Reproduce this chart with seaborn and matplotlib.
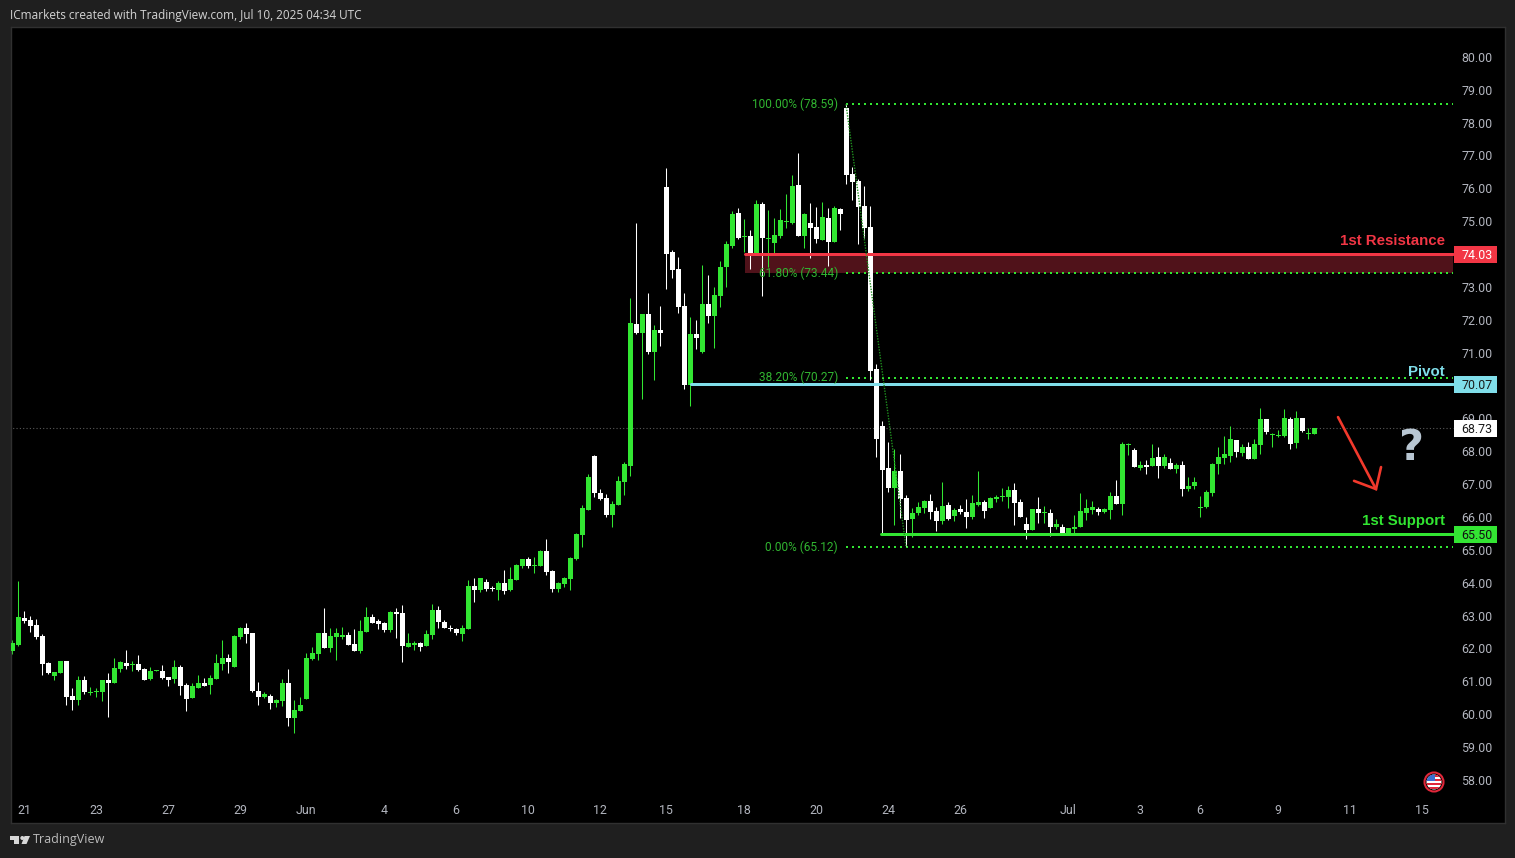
import matplotlib
matplotlib.use("Agg")
import matplotlib.pyplot as plt
from matplotlib.patches import Rectangle, Polygon, Ellipse
from matplotlib.transforms import ScaledTranslation
import seaborn as sns
import pandas as pd
import numpy as np

# ---------- data (price values) ----------
direction = list(
    "GGWWWWWGGWWGWGGGWGGWGWWGGWWGWWGGWGGGWGGW"
    "WWGWGGWGGGGGWGGGWWGGWWWGWWGGWGGWWWWGGW"
    "GWWGWGGGWGGWWGGGGGGWWWGGGG"
    "WGWGWWWWWGWGWGGGGWG"
    "WGWGGGGGWGWWGWGWWWWWW"
    "WWWGWWGGGWWGWGWWGGWGGGGWWWGWGWG"
    "WGGGGGWGGWGGWGWGWGWGWGGGGGGGGWGWGGWGGGWGWGG"
)
highs = [62.29,64.08,63.17,63.02,62.93,62.47,61.62,61.31,61.65,61.65,60.83,61.19,61.19,60.86,60.83,61.07,61.28,61.74,61.65,61.98,
 61.65,61.83,61.43,61.47,61.37,61.53,61.16,61.68,61.53,60.98,60.98,61.22,61.13,61.22,61.86,62.29,61.86,62.44,62.68,62.80,
 62.50,61.01,60.70,60.64,60.49,61.10,61.40,60.46,60.55,61.89,62.07,62.50,63.26,62.65,62.65,62.68,62.53,62.62,62.89,63.29,
 63.08,62.93,62.83,63.17,63.26,63.35,62.50,62.26,62.23,62.59,63.38,63.32,62.89,62.74,62.65,62.74,64.11,64.17,
 64.17,64.14,63.93,64.08,64.42,64.51,64.60,64.75,64.81,64.81,65.02,65.36,64.42,64.05,64.20,64.81,65.54,66.39,67.34,67.91,
 66.88,66.73,66.51,67.27,67.70,72.70,
 74.98,72.21,72.85,71.88,72.45,76.65,74.16,73.95,72.85,72.12,72.03,73.70,73.40,73.03,73.82,74.43,75.34,75.44,75.10,
 74.76,75.68,75.62,75.37,75.13,75.40,75.86,76.44,77.11,75.28,75.58,75.46,75.62,75.43,75.49,75.43,78.59,76.68,76.31,76.10,75.50,
 70.69,68.96,68.32,68.11,67.96,66.71,66.31,66.50,66.56,66.74,66.34,67.10,66.50,66.31,66.40,66.59,66.71,67.44,66.56,66.65,
 66.71,66.92,66.98,67.07,66.59,66.04,66.28,66.65,66.37,66.28,65.98,
 65.82,65.70,66.09,66.76,66.58,66.52,66.34,66.30,66.79,67.16,68.31,68.28,68.13,67.73,67.76,68.25,68.16,67.95,67.83,67.67,
 67.73,67.25,67.25,66.67,66.85,67.67,68.16,68.49,68.80,68.37,68.25,68.31,68.40,69.35,69.01,68.59,68.68,69.32,69.07,69.26,69.04,68.74,68.74]
body_tops = [62.20,62.99,62.96,62.89,62.74,62.41,61.59,61.31,61.65,61.65,60.58,61.07,61.07,60.70,60.73,61.07,61.07,61.43,61.62,61.59,
 61.56,61.56,61.40,61.34,61.37,61.34,61.16,61.47,61.47,60.92,60.89,60.98,60.98,61.13,61.59,61.74,61.74,62.41,62.65,62.65,
 62.50,60.73,60.64,60.58,60.46,60.98,60.98,60.16,60.31,61.74,61.89,62.50,62.50,62.41,62.50,62.44,62.44,62.16,62.56,62.99,
 62.99,62.86,62.80,63.14,63.14,63.11,62.20,62.20,62.20,62.47,63.20,63.20,62.83,62.65,62.62,62.65,63.93,63.93,
 64.17,64.05,63.87,64.02,64.02,64.14,64.57,64.75,64.75,64.57,64.99,64.99,64.38,64.02,64.17,64.78,65.51,66.30,67.25,67.88,
 66.76,66.61,66.42,67.12,67.64,71.94,
 71.91,72.21,72.21,71.72,71.72,76.07,74.10,73.58,72.45,71.60,71.60,72.52,72.52,72.79,73.64,74.34,75.25,75.28,74.58,
 74.58,75.55,75.55,74.52,74.61,75.07,75.04,76.10,76.13,75.25,74.98,74.85,75.16,75.13,75.43,75.40,78.47,76.47,76.25,75.49,74.86,
 70.54,68.81,67.53,67.44,67.44,66.62,66.16,66.34,66.53,66.53,66.22,66.37,66.40,66.25,66.28,66.19,66.46,66.50,66.50,66.62,
 66.65,66.68,66.86,66.86,66.50,65.83,66.28,66.28,66.19,66.16,65.83,
 65.73,65.70,65.73,66.21,66.30,66.34,66.27,66.27,66.67,66.67,68.25,68.25,68.07,67.61,67.61,67.83,67.86,67.86,67.67,67.61,
 67.61,66.97,67.10,66.34,66.79,67.64,67.86,67.95,68.40,68.37,68.16,68.16,68.25,69.01,69.01,68.56,68.53,69.04,69.01,69.04,69.04,68.59,68.74]
body_bottoms = [61.95,62.13,62.86,62.71,62.38,61.56,61.28,61.19,61.28,60.55,60.46,60.46,60.70,60.67,60.70,60.70,60.98,60.98,61.40,61.50,
 61.53,61.37,61.07,61.10,61.34,61.13,61.07,61.10,60.89,60.49,60.52,60.83,60.89,60.92,61.10,61.56,61.62,61.47,62.38,62.47,
 60.73,60.55,60.55,60.37,60.37,60.43,59.91,59.91,60.13,60.49,61.71,61.86,62.04,62.04,62.38,62.38,62.13,61.95,61.95,62.53,
 62.80,62.77,62.59,62.59,63.08,62.10,62.07,62.13,62.07,62.10,62.44,62.83,62.65,62.62,62.50,62.47,62.62,63.81,
 63.81,63.84,63.84,63.81,63.78,63.81,64.11,64.54,64.54,64.54,64.54,64.35,63.84,63.84,63.99,64.14,64.75,65.48,66.24,66.76,
 66.58,66.09,66.09,66.39,67.09,67.58,
 71.63,71.63,71.06,71.06,71.63,74.04,73.55,72.42,70.05,70.05,71.48,71.06,72.15,72.15,72.76,73.64,74.28,74.52,74.55,
 74.00,74.03,74.52,74.49,74.37,74.58,75.01,74.98,74.58,74.58,74.82,74.49,74.46,74.40,74.40,75.25,76.44,76.22,75.46,74.82,70.48,
 68.41,67.47,66.92,66.92,66.59,65.95,65.98,66.16,66.31,66.19,65.92,65.92,65.98,66.07,66.19,66.04,66.04,66.40,66.22,66.31,
 66.59,66.65,66.65,66.46,66.04,65.64,65.64,66.16,66.16,65.73,65.73,
 65.54,65.51,65.67,65.73,66.15,66.24,66.18,66.18,66.24,66.43,66.43,68.22,67.55,67.52,67.55,67.58,67.58,67.58,67.49,67.49,
 66.88,66.88,66.97,66.30,66.34,66.76,67.64,67.83,67.89,68.01,67.98,67.80,67.80,68.22,68.62,68.53,68.49,68.49,68.25,68.28,68.65,68.56,68.56]
lows = [61.86,62.10,62.80,62.53,62.32,61.22,61.24,61.07,61.28,60.31,60.16,60.31,60.64,60.61,60.55,60.43,59.94,60.98,61.31,61.40,
 61.34,61.34,61.07,61.07,61.34,61.10,60.89,60.98,60.61,60.13,60.52,60.83,60.89,60.64,61.10,61.37,61.28,61.47,62.32,62.20,
 60.70,60.31,60.52,60.19,60.25,60.28,59.67,59.46,60.13,60.49,61.68,61.68,62.04,61.92,61.68,62.32,62.13,61.95,61.89,62.53,
 62.80,62.62,62.53,62.53,62.35,61.62,62.07,61.98,61.95,62.10,62.32,62.65,62.65,62.56,62.44,62.26,62.62,63.44,
 63.75,63.78,63.78,63.50,63.69,63.78,64.11,64.48,64.48,64.32,64.54,64.26,63.75,63.75,63.90,63.81,64.72,65.12,66.24,66.64,
 66.54,66.03,65.72,66.39,66.70,67.28,
 71.60,69.63,70.99,70.20,71.24,72.97,73.31,72.24,69.93,69.41,71.15,71.02,71.94,71.18,72.42,73.03,74.22,74.49,74.10,
 73.58,74.00,72.76,73.64,74.00,74.52,74.82,74.95,74.58,74.22,73.91,74.37,74.46,73.67,74.40,74.76,76.16,75.68,74.34,74.52,70.20,
 67.86,65.49,66.80,65.80,66.01,65.16,65.43,66.10,66.16,65.98,65.61,65.83,65.95,65.92,66.13,65.70,65.98,66.37,66.01,66.31,
 66.50,66.53,66.31,65.80,66.04,65.37,65.64,65.86,65.86,65.46,65.67,
 65.54,65.51,65.51,65.73,65.94,66.12,66.09,66.15,65.97,66.43,66.09,67.92,67.55,67.46,67.34,67.58,67.22,67.52,67.49,67.37,
 66.67,66.82,66.88,66.03,66.30,66.67,67.34,67.64,67.70,67.86,67.89,67.80,67.80,67.95,68.56,68.16,68.46,68.46,68.10,68.13,68.62,68.40,68.56]

y_ticks = list(range(58, 81))
x_tick_pos = [2, 14, 26, 38, 49, 62, 74, 86, 98, 109, 122, 134, 146, 158, 176, 188, 198, 211, 223, 235]
x_tick_labels = ["21", "23", "27", "29", "Jun", "4", "6", "10", "12", "15", "18", "20", "24", "26", "Jul", "3", "6", "9", "11", "15"]

fib_levels = [78.59, 73.44, 70.27, 65.12]
fib_labels = ["100.00% (78.59)", "61.80% (73.44)", "38.20% (70.27)", "0.00% (65.12)"]
resistance, zone_low, pivot, support, last_price = 74.03, 73.44, 70.07, 65.50, 68.73
tags = [(resistance, "#f23645", "#ffffff"), (pivot, "#80deea", "#1a1a1a"),
        (last_price, "#ffffff", "#1a1a1a"), (support, "#33e533", "#111111")]

GREEN = "#32e632"
RED = "#f23645"
CYAN = "#80deea"
BG = "#1f1f1f"

# ---------- figure ----------
sns.set_theme(style="dark", rc={"axes.facecolor": "#000000", "figure.facecolor": BG,
                                "axes.grid": False, "text.color": "#b2b5be"})
plt.rcParams["font.family"] = ["Roboto", "DejaVu Sans"]
W, H = 1515, 858
fig = plt.figure(figsize=(W / 100, H / 100), dpi=100, facecolor=BG)
ax = fig.add_axes([11 / W, (H - 823) / H, 1494 / W, 796 / H], facecolor="#000000")
ax.set_axisbelow(True)

df = pd.DataFrame({"i": np.arange(len(highs)), "high": highs, "top": body_tops,
                   "bottom": body_bottoms, "low": lows, "dir": direction})
df["color"] = df["dir"].map({"G": GREEN, "W": "#ffffff"})


def level(x0, x1, y0, y1=None, **kw):
    y1 = y0 if y1 is None else y1
    sns.lineplot(x=[x0, x1], y=[y0, y1], ax=ax, legend=False, **kw)


DOTTED = (0, (1, 2))
END = 240.17      # right end of the drawings, just before the price tags
FIB_X = 139       # candle of the fib high
LOW_X = 149       # candle of the fib low

# zone and levels below the candles
ax.add_patch(Rectangle((122.17, zone_low), END - 122.17, resistance - zone_low,
                       facecolor="#50121a", edgecolor="none", zorder=1))
level(-1, END, last_price, color="#5a5a5a", linewidth=0.8, linestyle=(0, (1, 2)), zorder=1)
for lv in fib_levels:
    level(139.0, END, lv, color=GREEN, linewidth=1.44, linestyle=DOTTED, zorder=1.5)
level(FIB_X, LOW_X, fib_levels[0], fib_levels[3], color="#1f8f1f", linewidth=1.0,
      linestyle=(0, (1, 1)), zorder=4)

# candles
ax.vlines(df["i"], df["low"], df["high"], colors=df["color"], linewidth=0.75, zorder=2)
ax.bar(df["i"], df["top"] - df["bottom"], bottom=df["bottom"], width=5 / 6,
       color=df["color"], linewidth=0, zorder=3)

# horizontal levels
level(122.17, END, resistance, color=RED, linewidth=2.16, zorder=3.5)
level(113.17, END, pivot, color=CYAN, linewidth=2.16, zorder=3.5)
level(144.83, END, support, color=GREEN, linewidth=2.16, zorder=3.5)

# fib labels
for lv, lab in zip(fib_levels, fib_labels):
    ax.text(137.67, lv, lab, color="#31b531", fontsize=8.6, ha="right", va="center", zorder=4.5)

# level names
for y, name, col in [(74.42, "1st Resistance", RED), (70.45, "Pivot", CYAN), (65.90, "1st Support", GREEN)]:
    ax.text(238.83, y, name, color=col, fontsize=10.8, ha="right", va="center",
            fontweight="bold", family=["Liberation Sans", "DejaVu Sans"], zorder=5)

# price tags
for y, bg, fg in tags:
    ax.add_patch(Rectangle((240.33, y - 0.26), 7.17, 0.52, facecolor=bg, edgecolor="none", zorder=6))
    ax.text(244.2, y, f"{y:.2f}", color=fg, fontsize=8.9, ha="center", va="center_baseline", zorder=7)

# red arrow
ax.plot([221, 227.33], [69.07, 66.88], color="#f2392c", linewidth=1.9, zorder=5, solid_capstyle="round")
ax.plot([223.67, 227.33, 228.17], [67.13, 66.88, 67.55], color="#f2392c", linewidth=1.9, zorder=5,
        solid_capstyle="round", solid_joinstyle="miter")
# question mark
ax.text(233.2, 68.12, "?", color="#b8c6d2", fontsize=31, fontweight="bold", ha="center", va="center",
        family=["DejaVu Sans"], zorder=5)

ax.set_xlim(-1 / 6, 248.83)
ax.set_ylim(56.72, 80.94)
ax.set_xlabel("")
ax.set_ylabel("")
ax.set_yticks(y_ticks)
ax.set_yticklabels([f"{v:.2f}" for v in y_ticks])
ax.set_xticks(x_tick_pos)
ax.set_xticklabels(x_tick_labels)
ax.yaxis.tick_right()
ax.tick_params(axis="y", length=0, pad=-31.4, labelsize=8.9, labelcolor="#b2b5be")
ax.tick_params(axis="x", length=0, pad=-13.5, labelsize=8.9, labelcolor="#b2b5be")
lift = ScaledTranslation(0, 1 / 100, fig.dpi_scale_trans)
for lab in ax.get_yticklabels():
    lab.set_transform(lab.get_transform() + lift)
for s in ax.spines.values():
    s.set_color("#303030")
    s.set_linewidth(1.0)
    s.set_visible(True)


# ---------- figure furniture in pixel space ----------
def fx(x):
    return x / W


def fy(y):
    return 1 - y / H


fig.text(fx(10), fy(15), "ICmarkets created with TradingView.com, Jul 10, 2025 04:34 UTC",
         color="#d4d4d4", fontsize=8.5, ha="left", va="center", family=["Open Sans", "DejaVu Sans"])
fig.text(fx(33), fy(840), "TradingView", color="#bcbcbc", fontsize=9.0, ha="left", va="center",
         family=["Open Sans", "DejaVu Sans"])


def poly(points, color="#d8d8d8"):
    fig.add_artist(Polygon([(fx(a), fy(b)) for a, b in points], closed=True, facecolor=color,
                           edgecolor="none", transform=fig.transFigure))


poly([(10, 836), (19, 836), (19, 844), (14, 844), (14, 840), (10, 840)])
poly([(24.5, 836), (30, 836), (26.5, 844), (21.5, 844)])
fig.add_artist(Ellipse((fx(22.3), fy(838)), 4 / W, 4 / H, facecolor="#d8d8d8", edgecolor="none",
                       transform=fig.transFigure))

# flag badge
cx, cy = 1434, 782
fig.add_artist(Ellipse((fx(cx), fy(cy)), 19 / W, 19 / H, facecolor="#000000", edgecolor="#e0273a",
                       linewidth=1.5, transform=fig.transFigure, zorder=8))
clip = Ellipse((fx(cx), fy(cy)), 15 / W, 15 / H, facecolor="#ffffff", edgecolor="none",
               transform=fig.transFigure, zorder=9)
fig.add_artist(clip)
for y0, col, x0, w in [(775, "#e0273a", cx - 8, 16), (779, "#e0273a", cx - 8, 16), (783, "#e0273a", cx - 8, 16),
                       (787, "#e0273a", cx - 8, 16), (774, "#3b6fd0", cx - 8, 9)]:
    h = 2 if col != "#3b6fd0" else 7
    r = Rectangle((fx(x0), fy(y0 + h)), w / W, h / H, facecolor=col, edgecolor="none",
                  transform=fig.transFigure, zorder=10)
    fig.add_artist(r)
    r.set_clip_path(clip)

fig.savefig("out.png", dpi=100, facecolor=BG)
